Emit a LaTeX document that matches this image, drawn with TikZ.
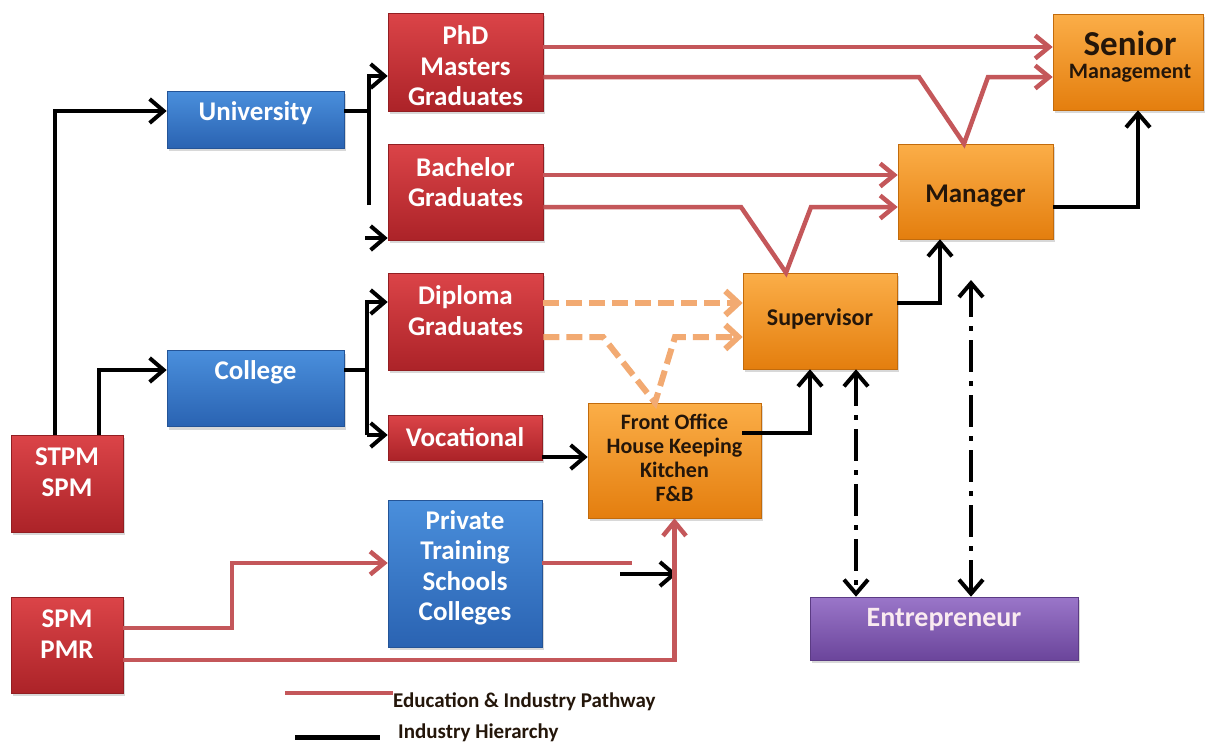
\documentclass[tikz,border=0pt]{standalone}
\usepackage{fontspec}
\setmainfont{Carlito}
\usetikzlibrary{arrows.meta,shadows}
\definecolor{redT}{HTML}{DB4448}
\definecolor{redB}{HTML}{AC2328}
\definecolor{blueT}{HTML}{4A8FDC}
\definecolor{blueB}{HTML}{2A63B2}
\definecolor{orT}{HTML}{FBAE48}
\definecolor{orB}{HTML}{E47E0E}
\definecolor{puT}{HTML}{9A76C9}
\definecolor{puB}{HTML}{6B459B}
\definecolor{pathred}{HTML}{C4575A}
\definecolor{dashor}{HTML}{F2AA72}
\definecolor{darktext}{HTML}{24160A}
\tikzset{
  box/.style={rectangle, inner sep=0pt, line width=0.6pt,
    drop shadow={shadow xshift=2pt, shadow yshift=-3pt, opacity=0.3}},
  redbox/.style={box, top color=redT, bottom color=redB, draw=redB!85!black},
  bluebox/.style={box, top color=blueT, bottom color=blueB, draw=blueB!85!black},
  orbox/.style={box, top color=orT, bottom color=orB, draw=orB!85!black},
  pubox/.style={box, top color=puT, bottom color=puB, draw=puB!85!black},
  wtxt/.style={text=white, inner sep=0pt, align=center,
    font=\bfseries\fontsize{27}{30.5}\selectfont},
  dtxt/.style={text=darktext, inner sep=0pt, align=center,
    font=\bfseries\fontsize{27}{30.5}\selectfont},
  legtxt/.style={text=darktext, inner sep=0pt,
    font=\bfseries\fontsize{21}{24}\selectfont},
  blk/.style={line width=4pt, black},
  hier/.style={blk, -{Straight Barb[length=14pt,width=24pt]}},
  edupath/.style={line width=4.5pt, pathred},
  eduar/.style={edupath, -{Straight Barb[length=14pt,width=23pt]}},
  dashar/.style={line width=6pt, dashor, dash pattern=on 16pt off 7pt,
    -{Straight Barb[length=13pt,width=24pt]}},
  dd/.style={line width=4pt, black, dash pattern=on 32pt off 9pt on 5pt off 9pt,
    {Straight Barb[length=14pt,width=24pt]}-{Straight Barb[length=14pt,width=24pt]}},
}
\begin{document}
\begin{tikzpicture}[x=1pt,y=-1pt]
\fill[white] (0,0) rectangle (1206,747);
\useasboundingbox (0,0) rectangle (1206,747);

% boxes
\node[redbox, minimum width=155pt, minimum height=98pt] (phd) at (465.5,62) {};
\node[bluebox, minimum width=177pt, minimum height=57pt] (univ) at (255.5,119.5) {};
\node[redbox, minimum width=155pt, minimum height=96pt] (bach) at (465.5,192) {};
\node[redbox, minimum width=155pt, minimum height=97pt] (dipl) at (465.5,321.5) {};
\node[bluebox, minimum width=177pt, minimum height=76pt] (coll) at (255.5,388.5) {};
\node[redbox, minimum width=154pt, minimum height=45pt] (voc) at (465,437.5) {};
\node[redbox, minimum width=112pt, minimum height=97pt] (stpm) at (67,483.5) {};
\node[orbox, minimum width=173pt, minimum height=115pt] (fo) at (674.5,460.5) {};
\node[bluebox, minimum width=154pt, minimum height=147pt] (priv) at (465,573.5) {};
\node[redbox, minimum width=112pt, minimum height=96pt] (spm) at (67,645) {};
\node[orbox, minimum width=154pt, minimum height=96pt] (sup) at (820,321) {};
\node[orbox, minimum width=155pt, minimum height=95pt] (mgr) at (975.5,191.5) {};
\node[orbox, minimum width=150pt, minimum height=96pt] (sen) at (1128,62) {};
\node[pubox, minimum width=268pt, minimum height=63pt] (ent) at (944,628.5) {};

% texts
\node[wtxt] (phdt) at (465.5,66) {PhD\\Masters\\Graduates};
\node[wtxt] (univt) at (255.5,113) {University};
\node[wtxt] (bacht) at (465.5,182) {Bachelor\\Graduates};
\node[wtxt] (diplt) at (465.5,310.5) {Diploma\\Graduates};
\node[wtxt] (collt) at (255.5,372) {College};
\node[wtxt] (voct) at (465,437) {Vocational};
\node[wtxt] (stpmt) at (67,472) {STPM\\SPM};
\node[wtxt] (spmt) at (67,634) {SPM\\PMR};
\node[wtxt] (privt) at (465,568) {Private\\Training\\Schools\\Colleges};
\node[dtxt, font=\bfseries\fontsize{22}{24}\selectfont] (fot) at (674.5,457.5) {Front Office\\House Keeping\\Kitchen\\F\&B};
\node[dtxt, font=\bfseries\fontsize{24}{28}\selectfont] (supt) at (820,319) {Supervisor};
\node[dtxt] (mgrt) at (975.5,196) {Manager};
\node[dtxt, font=\bfseries\fontsize{35}{38}\selectfont] (sent1) at (1130,43) {Senior};
\node[dtxt, font=\bfseries\fontsize{22}{24}\selectfont] (sent2) at (1130,73) {Management};
\node[wtxt, text=white!92!purple, font=\bfseries\fontsize{28}{30}\selectfont] (entt) at (944,620) {Entrepreneur};

% industry hierarchy (black)
\coordinate (ujoin) at (369,205);
\coordinate (ubot) at (365,238);
\coordinate (cjoin) at (367,435);
\coordinate (fojoin) at (742,433);
\coordinate (pa) at (620,574);
\coordinate (pb) at (677,574);
\draw[hier] (54.5,0 |- stpm.north) |- (univ.west |- 0,111);
\draw[hier] (99,0 |- stpm.north) |- (coll.west |- 0,370);
\draw[blk] (univ.east |- 0,111) -- (369,111);
\draw[hier] (ujoin) |- (phd.west |- 0,76);
\draw[hier] (ubot) -- (bach.west |- ubot);
\draw[blk] (coll.east |- 0,370) -- (367,370);
\draw[hier] (cjoin) |- (dipl.west |- 0,302);
\draw[hier] (cjoin) -- (voc.west |- cjoin);
\draw[hier] (voc.east |- 0,457) -- (fo.west |- 0,457);
\draw[hier] (fojoin) -| (810,0 |- sup.south);
\draw[hier] (sup.east |- 0,303) -| (940,0 |- mgr.south);
\draw[hier] (mgr.east |- 0,207) -| (1138,0 |- sen.south);
\draw[hier] (pa) -- (pb);

% education & industry pathway (red)
\draw[eduar] (phd.east |- 0,47) -- (sen.west |- 0,47);
\draw[eduar] (phd.east |- 0,77) -- (919,77) -- (964,0 |- mgr.north) -- (988,77) -- (sen.west |- 0,77);
\draw[eduar] (bach.east |- 0,175) -- (mgr.west |- 0,175);
\draw[eduar] (bach.east |- 0,207) -- (741,207) -- (786,0 |- sup.north) -- (811,207) -- (mgr.west |- 0,207);
\draw[eduar] (spm.east |- 0,628) -| (232,563) -- (priv.west |- 0,563);
\coordinate (privend) at (632,563);
\draw[edupath] (priv.east |- 0,563) -- (privend);
\draw[eduar] (spm.east |- 0,660) -| (fo.south);

% diploma dashed (orange)
\draw[dashar] (dipl.east |- 0,303) -- (sup.west |- 0,303);
\draw[dashar] (dipl.east |- 0,337) -- (603,337) -- (655,0 |- fo.north) -- (675,337) -- (sup.west |- 0,337);

% entrepreneur dash-dot
\coordinate (mgrlow) at (971,280);
\draw[dd] (856,0 |- sup.south) -- (856,0 |- ent.north);
\draw[dd] (mgrlow) -- (971,0 |- ent.north);

% legend
\coordinate (lr1) at (285,693);
\coordinate (lr2) at (393,693);
\coordinate (lb1) at (295,737);
\coordinate (lb2) at (380,737);
\draw[edupath] (lr1) -- (lr2);
\draw[blk, line width=5pt] (lb1) -- (lb2);
\node[legtxt, anchor=west] (leg1) at (393,702) {Education \& Industry Pathway};
\node[legtxt, anchor=west] (leg2) at (398,733) {Industry Hierarchy};
\end{tikzpicture}
\end{document}
